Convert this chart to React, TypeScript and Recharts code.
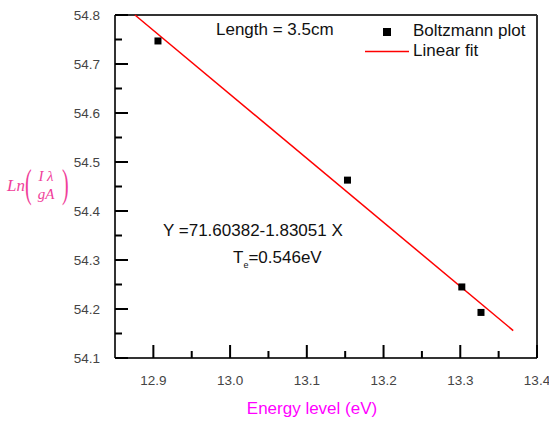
import React from 'react';
import { ComposedChart, Scatter, XAxis, YAxis, ReferenceLine } from 'recharts';

// measured points (energy level in eV, ln(I*lambda/gA))
const energy = [12.906, 13.153, 13.302, 13.327];
const lnValues = [54.747, 54.463, 54.245, 54.193];

// end points of the linear fit as drawn
const fitEnergy = [12.876, 13.369];
const fitLn = [54.8, 54.156];

const xTicks = [12.9, 12.95, 13.0, 13.05, 13.1, 13.15, 13.2, 13.25, 13.3, 13.35, 13.4];
const yTicks = [54.1, 54.15, 54.2, 54.25, 54.3, 54.35, 54.4, 54.45, 54.5, 54.55, 54.6, 54.65, 54.7, 54.75, 54.8];

const points = energy.map((x, i) => ({ x, y: lnValues[i] }));
const fit = fitEnergy.map((x, i) => ({ x, y: fitLn[i] }));

const AXIS = '#333333';
const LABEL = '#444444';
const FONT = '"Liberation Sans", Arial, sans-serif';

const isMajor = (v: number) => Math.round(v * 100) % 10 === 0;

// ticks point inward, minor ones shorter
const XTick = (props: any) => {
  const { x, y, payload } = props;
  const major = isMajor(payload.value);
  const len = major ? 13 : 7;
  return (
    <g>
      <rect x={x - 1} y={y - len} width={2} height={len} fill="black" />
      {major ? (
        <text x={x} y={y + 27} textAnchor="middle" fontSize={13.5} fill={LABEL} fontFamily={FONT}>
          {payload.value.toFixed(1)}
        </text>
      ) : null}
    </g>
  );
};

const YTick = (props: any) => {
  const { x, y, payload } = props;
  const major = isMajor(payload.value);
  const len = major ? 13 : 7;
  return (
    <g>
      <rect x={x} y={y - 1} width={len} height={2} fill="black" />
      {major ? (
        <text x={x - 15} y={y + 5} textAnchor="end" fontSize={13.5} fill={LABEL} fontFamily={FONT}>
          {payload.value.toFixed(1)}
        </text>
      ) : null}
    </g>
  );
};

const Square = (props: any) => {
  const { cx, cy } = props;
  return <rect x={cx - 3.5} y={cy - 3.5} width={7} height={7} fill="#000" />;
};

const NoShape = () => <g />;

export default function App() {
  return (
    <div style={{ position: 'absolute', left: 0, top: 0, width: 549, height: 421, background: '#fff' }}>
      <svg
        width={549}
        height={421}
        style={{ position: 'absolute', left: 0, top: 0, pointerEvents: 'none' }}
        fontFamily={FONT}
      >
        <text x={216} y={35} fontSize={17} fill="#111">Length = 3.5cm</text>
        <rect x={383} y={28} width={8} height={8} fill="#000" />
        <text x={413} y={36} fontSize={17} fill="#111">Boltzmann plot</text>
        <line x1={365} x2={409} y1={51.5} y2={51.5} stroke="#ff0000" strokeWidth={1.5} />
        <text x={413} y={56} fontSize={17} fill="#111">Linear fit</text>

        <text x={163} y={236} fontSize={17} fill="#111">Y =71.60382-1.83051 X</text>
        <text x={233} y={263} fontSize={17} fill="#111">
          T<tspan fontSize={9} dy={5}>e</tspan>
          <tspan dy={-5}>=0.546eV</tspan>
        </text>

        <text x={312} y={414} textAnchor="middle" fontSize={17} fill="#ff00ff">Energy level (eV)</text>

        <g fill="#f0409a" fontFamily='"Liberation Serif", "Times New Roman", serif' fontStyle="italic">
          <text x={7} y={191} fontSize={17}>Ln</text>
          <text x={25} y={197} fontSize={40} fontStyle="normal" transform="translate(25 0) scale(0.5 1) translate(-25 0)">(</text>
          <text x={46} y={181} fontSize={15} textAnchor="middle">I λ</text>
          <text x={46} y={199} fontSize={15} textAnchor="middle">gA</text>
          <text x={62} y={197} fontSize={40} fontStyle="normal" transform="translate(62 0) scale(0.5 1) translate(-62 0)">)</text>
        </g>
      </svg>
      <div style={{ position: 'absolute', left: 0, top: 0 }}>
        <ComposedChart width={549} height={421} margin={{ top: 15, right: 12, left: 55, bottom: 33 }}>
          <XAxis
            dataKey="x"
            type="number"
            domain={[12.85, 13.4]}
            ticks={xTicks}
            interval={0}
            tickSize={0}
            tickMargin={0}
            tickLine={false}
            tick={<XTick />}
            height={30}
            axisLine={{ stroke: AXIS, strokeWidth: 2 }}
          />
          <YAxis
            dataKey="y"
            type="number"
            domain={[54.1, 54.8]}
            ticks={yTicks}
            interval={0}
            tickSize={0}
            tickMargin={0}
            tickLine={false}
            tick={<YTick />}
            width={60}
            axisLine={{ stroke: AXIS, strokeWidth: 2 }}
          />
          <ReferenceLine y={54.8} stroke={AXIS} strokeWidth={2} />
          <ReferenceLine x={13.4} stroke={AXIS} strokeWidth={2} />
          <Scatter
            name="Linear fit"
            data={fit}
            line={{ stroke: '#ff0000', strokeWidth: 1.5 }}
            shape={<NoShape />}
            isAnimationActive={false}
          />
          <Scatter name="Boltzmann plot" data={points} shape={<Square />} isAnimationActive={false} />
        </ComposedChart>
      </div>
    </div>
  );
}
